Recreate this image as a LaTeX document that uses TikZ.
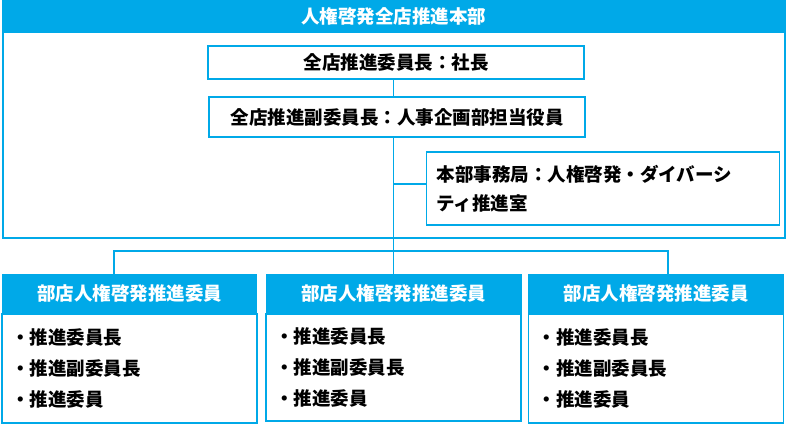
\documentclass[tikz,border=0pt]{standalone}
\usepackage{fontspec}
\setmainfont{Noto Sans CJK JP}
\usetikzlibrary{positioning}
\definecolor{hqblue}{RGB}{0,169,232}

\begin{document}
\begin{tikzpicture}[x=1pt, y=-1pt,
                    font=\fontsize{18.5}{29}\selectfont\bfseries,
                    framenode/.style={rectangle, draw=hqblue, line width=2pt, inner sep=0pt},
                    titlenode/.style={rectangle, fill=hqblue, text=white, inner sep=0pt},
                    postnode/.style={rectangle, draw=hqblue, line width=1.2pt, fill=white, inner sep=0pt},
                    bodynode/.style={rectangle, draw=hqblue, line width=1.5pt, fill=white, inner sep=9pt, align=left,
                                     text width=237pt, minimum height=109pt, font=\fontsize{18.5}{31}\selectfont\bfseries},
                    link/.style={draw=hqblue, line width=1.5pt}]
    \useasboundingbox (0,0) rectangle (787,423);
    % headquarters
    \node[framenode, minimum width=782pt, minimum height=236pt, anchor=north] (hq) at (393.5,1) {};
    \node[titlenode, minimum width=784pt, minimum height=33pt, anchor=north] (hqtitle) at (393.5,0) {人権啓発全店推進本部};
    \node[postnode, minimum width=376pt, minimum height=33pt] (chief) at (396,62.5) {全店推進委員長：社長};
    \node[postnode, minimum width=376pt, minimum height=40pt] (vice) at (397,117) {全店推進副委員長：人事企画部担当役員};
    \node[postnode, text width=333pt, minimum height=73pt, inner sep=10pt, align=left, anchor=west] (office) at (426,188.5)
        {本部事務局：人権啓発・ダイバーシ\\ティ推進室};
    % branch units
    \node[titlenode, minimum width=255pt, minimum height=39pt] (lefthead) at (129.5,293.5) {部店人権啓発推進委員};
    \node[bodynode, below=0pt of lefthead] (leftbody) {・推進委員長\\・推進副委員長\\・推進委員};
    \node[titlenode, minimum width=256pt, minimum height=39pt] (midhead) at (393.5,293.5) {部店人権啓発推進委員};
    \node[bodynode, below=0pt of midhead, minimum height=107pt] (midbody) {・推進委員長\\・推進副委員長\\・推進委員};
    \node[titlenode, minimum width=256pt, minimum height=39pt] (righthead) at (656,293.5) {部店人権啓発推進委員};
    \node[bodynode, below=0pt of righthead] (rightbody) {・推進委員長\\・推進副委員長\\・推進委員};
    % lines
    \coordinate (busL) at (114,251);
    \coordinate (busR) at (668,251);
    \draw[link] (chief.south -| midhead.north) -- (vice.north -| midhead.north);
    \draw[link] (vice.south -| midhead.north) -- (midhead.north);
    \draw[link] ([yshift=4.5pt]office.west) -- ([yshift=4.5pt]office.west -| midhead.north);
    \draw[link] (lefthead.north -| busL) -- (busL) -- (busR) -- (righthead.north -| busR);
\end{tikzpicture}
\end{document}
